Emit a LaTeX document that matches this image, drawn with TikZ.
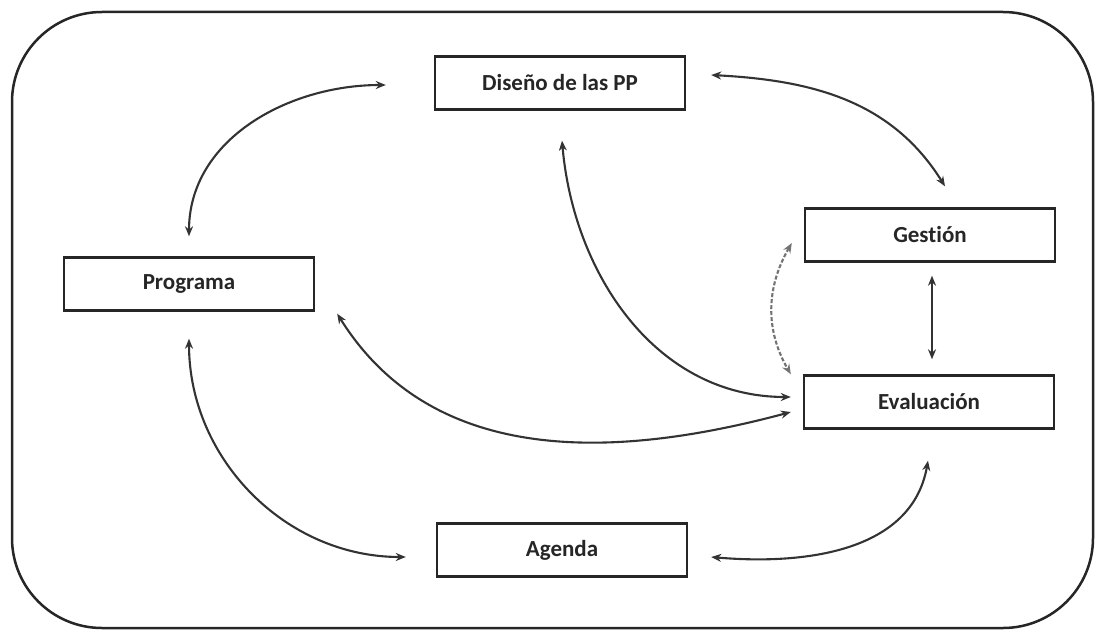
\documentclass[tikz,border=0pt]{standalone}
\usepackage{fontspec}
\setsansfont{Carlito}[Ligatures=NoCommon]
\usetikzlibrary{arrows.meta}

\tikzset{
  caja/.style={draw=black!85, line width=2.4pt, fill=white, minimum width=250pt,
    minimum height=53pt, font=\sffamily\bfseries\fontsize{23}{26}\selectfont, text=black!85},
  flecha/.style={draw=black!80, line width=2.1pt,
    {Stealth[length=10pt,width=8pt]}-{Stealth[length=10pt,width=8pt]}},
}

\begin{document}
\begin{tikzpicture}[x=1pt,y=-1pt]
		\useasboundingbox (0,0) rectangle (1100,634);
		
		% Frame
		\draw[line width=2.5pt,draw=black!85,rounded corners=90pt] (12,12) rectangle (1093,628);
		
		% Boxes
		\node[caja] (dis) at (560,83) {Diseño de las PP};
		\node[caja] (ges) at (930,235) {Gestión};
		\node[caja] (prog) at (189,284) {Programa};
		\node[caja] (eva) at (929,402) {Evaluación};
		\node[caja] (age) at (562,550) {Agenda};
		
		% Arrows
		\draw[flecha] ([yshift=20pt]prog.north) to[out=90,in=180] ([xshift=-48pt,yshift=-2pt]dis.west);
		\draw[flecha] ([xshift=25pt,yshift=8pt]dis.east) to[out=-3,in=122] ([xshift=15pt,yshift=21pt]ges.north);
		\draw[flecha] ([xshift=2pt,yshift=-30pt]dis.south) to[out=-85,in=180] ([xshift=-12pt,yshift=5pt]eva.west);
		\draw[flecha] ([xshift=22pt,yshift=-2pt]prog.south east) to[out=-58,in=195] ([xshift=-12pt,yshift=-10pt]eva.west);
		\draw[flecha,draw=black!55,dash pattern=on 4pt off 2pt] ([xshift=-12pt,yshift=-8pt]ges.west) to[out=240,in=120] ([xshift=-12pt]eva.north west);
		\draw[flecha] ([xshift=2pt,yshift=-13pt]ges.south) -- ([xshift=3pt,yshift=15pt]eva.north);
		\draw[flecha] ([yshift=-27pt]prog.south) to[out=-90,in=180] ([xshift=-30pt,yshift=-7pt]age.west);
		\draw[flecha] ([xshift=23pt,yshift=-7pt]age.east) to[out=-5,in=-100] ([xshift=-1pt,yshift=-31pt]eva.south);
\end{tikzpicture}
\end{document}
